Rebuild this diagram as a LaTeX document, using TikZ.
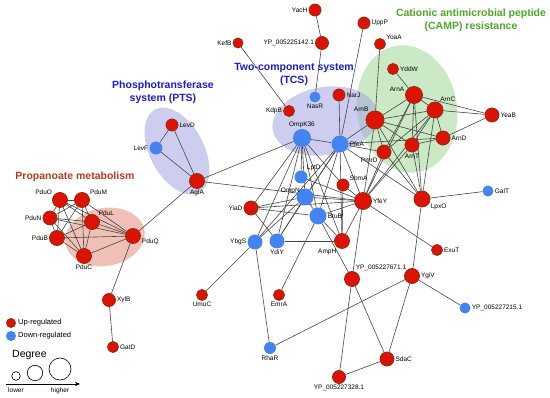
\documentclass[tikz,border=0pt]{standalone}
\usepackage{fontspec}
\setmainfont{Liberation Sans}
\usetikzlibrary{arrows.meta}
\definecolor{upred}{RGB}{222,18,4}
\definecolor{upedge}{RGB}{140,45,15}
\definecolor{dnblue}{RGB}{68,132,240}
\definecolor{edgegray}{RGB}{70,70,70}
\definecolor{pinkfill}{RGB}{240,192,182}
\definecolor{lavfill}{RGB}{164,164,228}
\definecolor{greenfill}{RGB}{202,233,196}
\definecolor{campgreen}{RGB}{78,168,40}
\definecolor{tcsblue}{RGB}{28,28,200}
\definecolor{propred}{RGB}{180,60,30}
\pgfdeclarelayer{bg}
\pgfdeclarelayer{edgelayer}
\pgfsetlayers{bg,edgelayer,main}
\begin{document}
\begin{tikzpicture}[x=1pt,y=-1pt,
  gn/.style={circle, inner sep=0pt},
  up/.style={gn, fill=upred, draw=upedge, line width=0.8pt},
  dn/.style={gn, fill=dnblue},
  lab/.style={font=\fontsize{6.5}{7}\selectfont, inner sep=1pt, text=black},
  ttl/.style={font=\fontsize{10.5}{13}\selectfont\bfseries, align=center, inner sep=0pt},
  leg/.style={font=\fontsize{7.5}{9}\selectfont, inner sep=1pt, anchor=west},
  edge/.style={draw=edgegray, line width=0.6pt},
  deg/.style={circle, draw=black, line width=0.6pt, inner sep=0pt}]
\useasboundingbox (0,0) rectangle (550,398);
% titles
\node[ttl, text=campgreen] (tcamp) at (471,20) {Cationic antimicrobial peptide\\(CAMP) resistance};
\node[ttl, text=tcsblue] (ttcs) at (294,74) {Two-component system\\(TCS)};
\node[ttl, text=tcsblue] (tpts) at (163,92) {Phosphotransferase\\system (PTS)};
\node[ttl, text=propred] (tprop) at (75,177) {Propanoate metabolism};
% up-regulated nodes
\node[up, minimum size=12pt, label={[lab]left:YacH}] (YacH) at (315,10) {};
\node[up, minimum size=10pt, label={[lab]left:KefB}] (KefB) at (238,43) {};
\node[up, minimum size=13pt, label={[lab]left:YP\_005225142.1}] (YPa) at (322,43) {};
\node[up, minimum size=12pt, label={[lab]right:UppP}] (UppP) at (364,23) {};
\node[up, minimum size=11pt, label={[lab]30:YoaA}] (YoaA) at (380,44) {};
\node[up, minimum size=11pt, label={[lab]right:YddW}] (YddW) at (393,69) {};
\node[up, minimum size=17pt, label={[lab]165:ArnA}] (ArnA) at (414,95) {};
\node[up, minimum size=16pt, label={[lab]60:ArnC}] (ArnC) at (435,110) {};
\node[up, minimum size=18pt, label={[lab]125:ArnB}] (ArnB) at (375,120) {};
\node[up, minimum size=14pt, label={[lab]right:YeaB}] (YeaB) at (492,115) {};
\node[up, minimum size=14pt, label={[lab]right:ArnD}] (ArnD) at (443,138) {};
\node[up, minimum size=14pt, label={[lab]below:ArnT}] (ArnT) at (412,145) {};
\node[up, minimum size=14pt, label={[lab]225:PmrD}] (PmrD) at (384,152) {};
\node[up, minimum size=12pt, label={[lab]right:NarJ}] (NarJ) at (339,95) {};
\node[up, minimum size=11pt, label={[lab]left:KdpB}] (KdpB) at (289,111) {};
\node[up, minimum size=12pt, label={[lab]30:SbmA}] (SbmA) at (343,185) {};
\node[up, minimum size=17pt, label={[lab]right:YfeY}] (YfeY) at (363,201) {};
\node[up, minimum size=16pt, label={[lab]-25:LpxO}] (LpxO) at (422,199) {};
\node[up, minimum size=14pt, label={[lab]left:YiaD}] (YiaD) at (251,208) {};
\node[up, minimum size=15pt, label={[lab]235:AmpH}] (AmpH) at (342,241) {};
\node[up, minimum size=11pt, label={[lab]right:ExuT}] (ExuT) at (437,250) {};
\node[up, minimum size=15pt, label={[lab]70:YP\_005227671.1}] (YPb) at (352,279) {};
\node[up, minimum size=15pt, label={[lab]right:YgiV}] (YgiV) at (412,276) {};
\node[up, minimum size=11pt, label={[lab]below:UmuC}] (UmuC) at (202,295) {};
\node[up, minimum size=11pt, label={[lab]below:EmrA}] (EmrA) at (279,295) {};
\node[up, minimum size=14pt, label={[lab]right:SdaC}] (SdaC) at (387,359) {};
\node[up, minimum size=13pt, label={[lab]below:YP\_005227328.1}] (YPc) at (339,377) {};
\node[up, minimum size=15pt, label={[lab]below:AglA}] (AglA) at (197,181) {};
\node[up, minimum size=12pt, label={[lab]right:LevD}] (LevD) at (172,125) {};
\node[up, minimum size=15pt, label={[lab]150:PduO}] (PduO) at (60,200) {};
\node[up, minimum size=15pt, label={[lab]30:PduM}] (PduM) at (82,200) {};
\node[up, minimum size=14pt, label={[lab]left:PduN}] (PduN) at (50,218) {};
\node[up, minimum size=15pt, label={[lab]45:PduL}] (PduL) at (92,222) {};
\node[up, minimum size=15pt, label={[lab]left:PduB}] (PduB) at (57,238) {};
\node[up, minimum size=15pt, label={[lab]below:PduC}] (PduC) at (84,256) {};
\node[up, minimum size=15pt, label={[lab]-10:PduQ}] (PduQ) at (133,236) {};
\node[up, minimum size=13pt, label={[lab]right:XylB}] (XylB) at (109,300) {};
\node[up, minimum size=11pt, label={[lab]right:GatD}] (GatD) at (113,347) {};
% down-regulated nodes
\node[dn, minimum size=11pt, label={[lab]below:NasR}] (NasR) at (315,97) {};
\node[dn, minimum size=18pt, label={[lab]above:OmpK36}] (OmpK36) at (302,138) {};
\node[dn, minimum size=17pt, label={[lab]right:PfeA}] (PfeA) at (340,144) {};
\node[dn, minimum size=13pt, label={[lab]45:LptD}] (LptD) at (301,177) {};
\node[dn, minimum size=17pt, label={[lab,label distance=-4pt]150:OmpN}] (OmpN) at (305,197) {};
\node[dn, minimum size=17pt, label={[lab]right:BtuB}] (BtuB) at (318,216) {};
\node[dn, minimum size=11pt, label={[lab]right:GalT}] (GalT) at (488,191) {};
\node[dn, minimum size=15pt, label={[lab]left:YbgS}] (YbgS) at (255,242) {};
\node[dn, minimum size=15pt, label={[lab]below:YdiY}] (YdiY) at (277,241) {};
\node[dn, minimum size=11pt, label={[lab]right:YP\_005227215.1}] (YPd) at (465,308) {};
\node[dn, minimum size=12pt, label={[lab]below:RhaR}] (RhaR) at (270,348) {};
\node[dn, minimum size=13pt, label={[lab]left:LevF}] (LevF) at (156,148) {};
% group ellipses
\begin{pgfonlayer}{bg}
\fill[greenfill, rotate around={10:(407,109)}] (407,109) ellipse [x radius=50, y radius=64];
\fill[lavfill, opacity=0.55, rotate around={10:(325,121)}] (325,121) ellipse [x radius=53, y radius=34];
\fill[lavfill, opacity=0.55, rotate around={-62:(177,151)}] (177,151) ellipse [x radius=47, y radius=27];
\fill[pinkfill, rotate around={10:(105,237)}] (105,237) ellipse [x radius=40, y radius=29];
\end{pgfonlayer}
% edges
\begin{pgfonlayer}{edgelayer}
\foreach \a/\b in {YacH/YPa, YPa/NasR, KefB/KdpB, UppP/PfeA, YoaA/ArnB, NarJ/PfeA, YddW/ArnA,
  ArnA/ArnB, ArnA/ArnC, ArnA/ArnT, ArnA/PmrD, ArnA/YfeY, ArnA/YeaB, ArnA/LpxO,
  ArnB/ArnC, ArnB/ArnD, ArnB/ArnT, ArnB/PmrD, ArnB/YfeY, ArnB/LpxO, ArnB/PfeA,
  ArnC/ArnD, ArnC/ArnT, ArnC/PmrD, ArnC/YfeY, ArnC/YeaB, ArnC/LpxO,
  ArnD/ArnT, ArnD/YeaB, ArnD/PfeA, ArnT/YfeY, ArnT/LpxO,
  PmrD/YfeY, PmrD/LpxO, PmrD/PfeA, LpxO/GalT, LpxO/YgiV, LpxO/PfeA,
  OmpK36/PfeA, OmpK36/LptD, OmpK36/OmpN, OmpK36/BtuB, OmpK36/YbgS, OmpK36/YdiY,
  OmpK36/YiaD, OmpK36/AmpH, OmpK36/SbmA, OmpK36/AglA,
  PfeA/OmpN, PfeA/BtuB, PfeA/YdiY, PfeA/YbgS, PfeA/YfeY, PfeA/AmpH,
  OmpN/YfeY, OmpN/BtuB, OmpN/YbgS, OmpN/YdiY, OmpN/YiaD, LptD/YfeY,
  BtuB/YfeY, BtuB/AmpH, BtuB/YPb, BtuB/EmrA, BtuB/YiaD,
  YiaD/YdiY, YiaD/YfeY, AglA/YfeY, AglA/LevD, AglA/LevF, LevD/LevF, AglA/PduQ,
  SbmA/YfeY, SbmA/AmpH, YfeY/AmpH, YfeY/ExuT, YfeY/YPb, YdiY/AmpH,
  YbgS/UmuC, YbgS/RhaR, YPb/SdaC, YPb/YPc, YgiV/SdaC, YgiV/RhaR, YgiV/YPd,
  SdaC/YPc, PduQ/XylB, XylB/GatD,
  PduO/PduM, PduO/PduN, PduO/PduL, PduO/PduB, PduO/PduC, PduO/PduQ,
  PduM/PduN, PduM/PduL, PduM/PduB, PduM/PduC, PduM/PduQ,
  PduN/PduL, PduN/PduB, PduN/PduC, PduN/PduQ,
  PduL/PduB, PduL/PduC, PduL/PduQ, PduB/PduC, PduB/PduQ, PduC/PduQ}
  \draw[edge] (\a) -- (\b);
\end{pgfonlayer}
% legend
\node[up, minimum size=9pt] (lgup) at (11,323) {};
\node[leg] (lguptxt) at (17,323) {Up-regulated};
\node[dn, minimum size=10pt] (lgdn) at (11,336) {};
\node[leg] (lgdntxt) at (17,336) {Down-regulated};
\node[font=\fontsize{10.5}{12}\selectfont, anchor=west, inner sep=0pt] (lgdeg) at (12,355) {Degree};
\node[deg, minimum size=8.6pt] (dsmall) at (16,376) {};
\node[deg, minimum size=15.4pt] (dmid) at (35,373) {};
\node[deg, minimum size=22pt] (dbig) at (60,369) {};
\coordinate (arrs) at (6,384);
\coordinate (arre) at (80,384);
\draw[line width=0.6pt, -{Stealth[length=5pt,width=4pt]}] (arrs) -- (arre);
\node[lab] (lglow) at (16,390.5) {lower};
\node[lab] (lghigh) at (60,390.5) {higher};
\end{tikzpicture}
\end{document}
